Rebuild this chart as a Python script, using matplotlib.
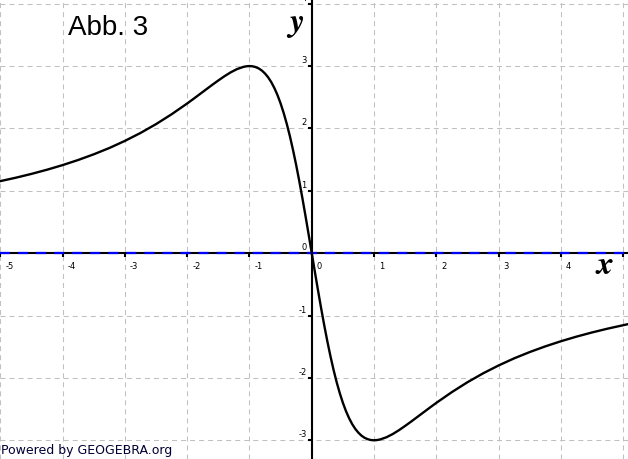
import matplotlib
matplotlib.use("Agg")
import matplotlib.pyplot as plt
from matplotlib.transforms import offset_copy

plt.rcParams['lines.scale_dashes'] = False

# curve points
x = [-5.1, -4.75, -4.5, -4.25, -4.0, -3.75, -3.5, -3.25, -3.0, -2.75, -2.5, -2.25,
     -2.0, -1.9, -1.75, -1.6, -1.5, -1.4, -1.3, -1.2, -1.1, -1.05, -1.0, -0.95,
     -0.9, -0.85, -0.8, -0.75, -0.7, -0.65, -0.6, -0.55, -0.5, -0.45, -0.4, -0.35,
     -0.3, -0.25, -0.2, -0.15, -0.1, -0.05, 0.0,
     0.05, 0.1, 0.15, 0.2, 0.25, 0.3, 0.35, 0.4, 0.45, 0.5, 0.55, 0.6,
     0.65, 0.7, 0.75, 0.8, 0.85, 0.9, 0.95, 1.0, 1.05, 1.1, 1.2, 1.3,
     1.4, 1.5, 1.6, 1.75, 1.9, 2.0, 2.25, 2.5, 2.75, 3.0, 3.25, 3.5,
     3.75, 4.0, 4.25, 4.5, 4.75, 5.1]
y = [1.133, 1.210, 1.271, 1.338, 1.412, 1.494, 1.585, 1.686, 1.800, 1.927, 2.069, 2.227,
     2.400, 2.473, 2.585, 2.697, 2.769, 2.838, 2.900, 2.951, 2.986, 2.996, 3.000, 2.996,
     2.983, 2.961, 2.927, 2.880, 2.819, 2.742, 2.647, 2.534, 2.400, 2.245, 2.069, 1.871,
     1.651, 1.412, 1.154, 0.880, 0.594, 0.299, 0.0,
     -0.299, -0.594, -0.880, -1.154, -1.412, -1.651, -1.871, -2.069, -2.245, -2.400, -2.534, -2.647,
     -2.742, -2.819, -2.880, -2.927, -2.961, -2.983, -2.996, -3.000, -2.996, -2.986, -2.951, -2.900,
     -2.838, -2.769, -2.697, -2.585, -2.473, -2.400, -2.227, -2.069, -1.927, -1.800, -1.686, -1.585,
     -1.494, -1.412, -1.338, -1.271, -1.210, -1.133]

x_ticks = [-5, -4, -3, -2, -1, 0, 1, 2, 3, 4, 5]
y_ticks = [-3, -2, -1, 0, 1, 2, 3, 4]
x_labels = [-5, -4, -3, -2, -1, 0, 1, 2, 3, 4]

fig = plt.figure(figsize=(6.28, 4.60), dpi=100)
ax = fig.add_axes([0, 0, 1, 1])
ax.set_xlim(-5.005, 5.077)
ax.set_ylim(-3.30, 4.075)

# grid
for gx in x_ticks:
    ax.axvline(gx, color='#c0c0c0', lw=0.75, dashes=(3.6, 2.9), zorder=1)
for gy in y_ticks:
    ax.axhline(gy, color='#c0c0c0', lw=0.75, dashes=(3.6, 2.9), zorder=1)

# axes through origin
for s in ['top', 'right']:
    ax.spines[s].set_visible(False)
ax.spines['left'].set_position(('data', 0))
ax.spines['bottom'].set_position(('data', 0))
ax.spines['left'].set_linewidth(1.5)
ax.spines['bottom'].set_linewidth(1.5)
ax.spines['left'].set_zorder(3)
ax.spines['bottom'].set_zorder(3)
ax.set_xticks(x_ticks)
ax.set_yticks(y_ticks)
ax.tick_params(direction='out', length=3, width=1.5,
               labelbottom=False, labelleft=False)

# tick labels
tx = offset_copy(ax.transData, fig=fig, x=5, y=-8, units='dots')
ty = offset_copy(ax.transData, fig=fig, x=-5, y=2, units='dots')
for v in x_labels:
    ax.text(v, 0, str(v), transform=tx, ha='left', va='top', fontsize=6,
            family='DejaVu Sans')
for v in y_ticks:
    ax.text(0, v, str(v), transform=ty, ha='right', va='bottom', fontsize=6,
            family='DejaVu Sans')

# blue dashed line on x-axis
ax.axhline(0, color='#0000ff', lw=1.6, dashes=(7.2, 5.8), zorder=4)

# curve
ax.plot(x, y, color='black', lw=1.7, zorder=5, solid_capstyle='round',
        solid_joinstyle='round')

fig.text(68 / 628, 1 - 35 / 460, "Abb. 3", fontsize=20, family='Liberation Sans',
         va='baseline', ha='left')
fig.text(295 / 628, 1 - 24 / 460, r"$\mathbfit{y}$", fontsize=24,
         math_fontfamily='stix', ha='center', va='center')
fig.text(605 / 628, 1 - 265 / 460, r"$\mathbfit{x}$", fontsize=24,
         math_fontfamily='stix', ha='center', va='center')
fig.text(1 / 628, 1 - 454 / 460, "Powered by GEOGEBRA.org", fontsize=9,
         family='DejaVu Sans', color='#000033', ha='left', va='baseline')

fig.savefig("out.png", dpi=100)
